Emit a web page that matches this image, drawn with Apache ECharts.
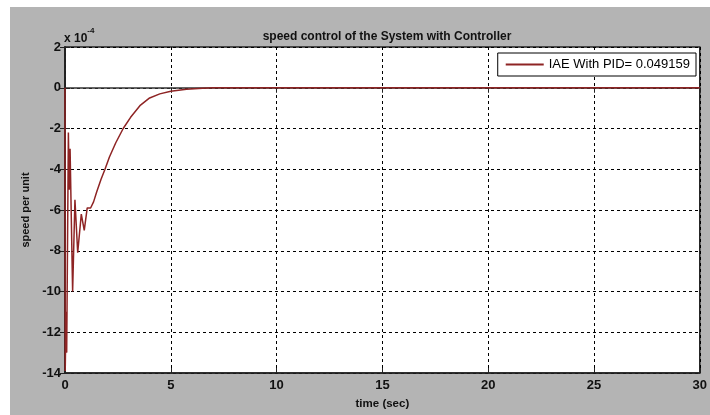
<!DOCTYPE html>
<html>
<head>
<meta charset="utf-8">
<script src="https://cdn.jsdelivr.net/npm/echarts@6/dist/echarts.min.js"></script>
<style>
  html, body { margin: 0; padding: 0; background: #fff; width: 710px; height: 415px; overflow: hidden; }
  #chart { position: absolute; left: 10px; top: 7px; width: 700px; height: 408px; background: #b4b4b4; }
</style>
</head>
<body>
<div id="chart"></div>
<script>
// time (sec) and speed per unit (x 10^-4)
const timeSec = [0, 0.01, 0.05, 0.08, 0.16, 0.2, 0.24, 0.36, 0.47, 0.6, 0.77, 0.91, 1.05, 1.21,
  1.35, 1.5, 1.7, 1.89, 2.1, 2.4, 2.75, 3.1, 3.54, 4.0, 4.48, 5.0, 5.74, 6.5, 7.0, 30];
const speed = [0, -13.9, -11, -13, -2.2, -5.0, -3.0, -10.0, -5.5, -8.1, -6.2, -7.0, -5.9, -5.9,
  -5.6, -5.1, -4.5, -4.0, -3.4, -2.7, -2.0, -1.45, -0.88, -0.5, -0.3, -0.17, -0.07, -0.02, 0, 0];
const seriesName = "IAE With PID= 0.049159";
const xTicks = [0, 5, 10, 15, 20, 25, 30];
const yTicks = [-14, -12, -10, -8, -6, -4, -2, 0, 2];

const font = "'Liberation Sans', Arial, sans-serif";
let chart = echarts.init(document.getElementById("chart"), null, { width: 700, height: 408 });

let points = timeSec.map((t, i) => [t, speed[i]]);

let option = {
  backgroundColor: "transparent",
  animation: false,
  title: {
    text: "speed control of the System with Controller",
    left: 372,
    top: 19,
    textAlign: "center",
    textStyle: { color: "#111", fontSize: 12, fontWeight: "bold", fontFamily: font }
  },
  graphic: [{
    type: "text",
    left: 54,
    top: 20,
    style: {
      text: "{a|x 10}{b|-4}",
      rich: {
        a: { fontSize: 12, fontWeight: "bold", fontFamily: font, fill: "#111", padding: [6, 0, 0, 0] },
        b: { fontSize: 8, fontWeight: "bold", fontFamily: font, fill: "#111", verticalAlign: "top" }
      }
    }
  }],
  legend: {
    right: 14,
    top: 46,
    data: [{ name: seriesName, icon: "rect" }],
    itemWidth: 38,
    itemHeight: 2,
    itemGap: 6,
    padding: [5, 6, 5, 8],
    backgroundColor: "#fff",
    borderColor: "#000",
    borderWidth: 1,
    borderRadius: 0,
    textStyle: { color: "#000", fontSize: 13, fontFamily: font }
  },
  grid: {
    left: 55,
    top: 40,
    width: 636,
    height: 329,
    show: true,
    backgroundColor: "#fff",
    borderColor: "#222",
    borderWidth: 1.5
  },
  xAxis: [{
    type: "value",
    min: 0,
    max: 30,
    interval: 5,
    name: "time (sec)",
    nameLocation: "middle",
    nameGap: 25,
    nameTextStyle: { color: "#111", fontSize: 11.5, fontWeight: "bold", fontFamily: font },
    axisLine: { show: true, onZero: false, lineStyle: { color: "#222", width: 1.5 } },
    axisTick: { show: true, inside: true, length: 5, lineStyle: { color: "#222" } },
    axisLabel: {
      color: "#111", fontSize: 13, fontWeight: "bold", fontFamily: font, margin: 6,
      formatter: v => xTicks.includes(v) ? String(v) : ""
    },
    splitLine: { show: true, lineStyle: { color: "#000", type: [3, 3], width: 1 } }
  }, {
    type: "value",
    position: "top",
    min: 0,
    max: 30,
    interval: 5,
    axisLine: { show: true, lineStyle: { color: "#333", width: 1.5 } },
    axisTick: { show: true, inside: true, length: 5, lineStyle: { color: "#222" } },
    axisLabel: { show: false },
    splitLine: { show: false }
  }],
  yAxis: [{
    type: "value",
    min: -14,
    max: 2,
    interval: 2,
    name: "speed per unit",
    nameLocation: "middle",
    nameGap: 30,
    nameTextStyle: { color: "#111", fontSize: 11, fontWeight: "bold", fontFamily: font },
    axisLine: { show: true, onZero: false, lineStyle: { color: "#222", width: 1.5 } },
    axisTick: { show: true, inside: true, length: 5, lineStyle: { color: "#222" } },
    axisLabel: {
      color: "#111", fontSize: 13, fontWeight: "bold", fontFamily: font, margin: 4,
      formatter: v => yTicks.includes(v) ? String(v) : ""
    },
    splitLine: { show: true, lineStyle: { color: "#000", type: [3, 3], width: 1 } }
  }, {
    type: "value",
    position: "right",
    min: -14,
    max: 2,
    interval: 2,
    axisLine: { show: true, lineStyle: { color: "#222", width: 1.5 } },
    axisTick: { show: true, inside: true, length: 5, lineStyle: { color: "#222" } },
    axisLabel: { show: false },
    splitLine: { show: false }
  }],
  series: [{
    name: seriesName,
    type: "line",
    xAxisIndex: 0,
    yAxisIndex: 0,
    data: points,
    symbol: "none",
    smooth: false,
    lineStyle: { color: "#8e2424", width: 1.5 },
    itemStyle: { color: "#8e2424" },
    z: 5
  }]
};

chart.setOption(option);
</script>
</body>
</html>
